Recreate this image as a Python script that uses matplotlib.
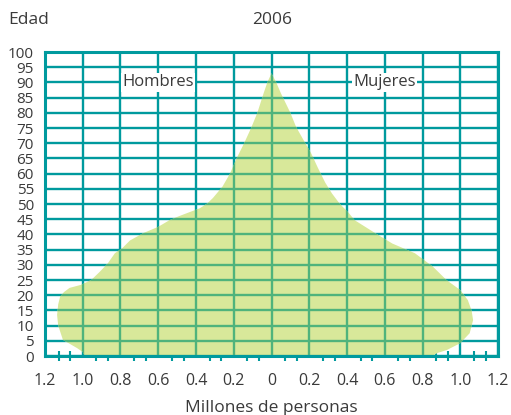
import numpy as np
import matplotlib
matplotlib.use("Agg")
from matplotlib import pyplot as plt
from matplotlib.patches import Polygon

plt.rcParams['font.family'] = ['Open Sans', 'DejaVu Sans']

# population pyramid 2006, millions of people by age
ages_men = [0, 1.3, 2.6, 5.3, 10, 13.5, 17, 19.5, 21, 22.4, 23.4, 25, 27.7, 30.5,
            33.8, 35.5, 38, 40.4, 42.5, 44.7, 46, 48.6, 50.2, 52, 55.7, 60, 65,
            70, 75, 80, 86.4, 90, 93]
men = [0.99, 1.0, 1.03, 1.105, 1.13, 1.136, 1.13, 1.12, 1.1, 1.07, 1.01, 0.955,
       0.91, 0.867, 0.83, 0.79, 0.75, 0.68, 0.6, 0.54, 0.49, 0.38, 0.34, 0.31,
       0.26, 0.22, 0.185, 0.145, 0.108, 0.075, 0.042, 0.022, 0.0]

ages_women = [0, 1, 2, 4.2, 7.5, 11.8, 15, 18.4, 21.7, 25, 29.4, 33.8, 37, 40.4,
              44.7, 47, 50.2, 53.5, 57, 62, 66.7, 71, 75.4, 80, 86.4, 90, 93]
women = [0.85, 0.88, 0.93, 1.0, 1.05, 1.068, 1.06, 1.04, 1.0, 0.927, 0.855, 0.76,
         0.64, 0.55, 0.44, 0.41, 0.36, 0.32, 0.285, 0.245, 0.21, 0.17, 0.13, 0.1,
         0.05, 0.025, 0.0]

x_ticks = [-1.2, -1.0, -0.8, -0.6, -0.4, -0.2, 0, 0.2, 0.4, 0.6, 0.8, 1.0, 1.2]
x_labels = ['1.2', '1.0', '0.8', '0.6', '0.4', '0.2', '0', '0.2', '0.4', '0.6', '0.8', '1.0', '1.2']
y_ticks = list(range(0, 101, 5))

teal = '#009a9e'
fill_col = '#d8e89a'
green_grid = '#4fb37c'
txt = '#3a3a3a'

fig = plt.figure(figsize=(5.11, 4.15), dpi=100)
ax = fig.add_axes([45 / 511, 1 - 356 / 415, 453 / 511, 304 / 415])
ax.set_xlim(-1.2, 1.2)
ax.set_ylim(0, 100)

# teal grid
for x in x_ticks:
    ax.axvline(x, color=teal, lw=1.7, zorder=1)
for y in y_ticks:
    ax.axhline(y, color=teal, lw=1.7, zorder=1)

# outline polygon: women side going up, men side coming down
verts = [(w, a) for a, w in zip(ages_women, women)]
verts += [(-m, a) for a, m in zip(ages_men[::-1], men[::-1])]
poly = Polygon(verts, closed=True, fc=fill_col, ec='none', zorder=2)
ax.add_patch(poly)

# greenish grid inside the pyramid
for x in x_ticks:
    ln = ax.axvline(x, color=green_grid, lw=1.7, zorder=3)
    ln.set_clip_path(poly)
for y in y_ticks:
    ln = ax.axhline(y, color=green_grid, lw=1.7, zorder=3)
    ln.set_clip_path(poly)

for s in ax.spines.values():
    s.set_color(teal)
    s.set_linewidth(2.2)
    s.set_zorder(4)

ax.set_xticks(x_ticks)
ax.set_xticklabels(x_labels)
ax.set_yticks(y_ticks)
ax.set_yticklabels([str(v) for v in y_ticks])
minor = []
for x in x_ticks[:-1]:
    minor += [x + 0.072, x + 0.134]
ax.set_xticks(minor, minor=True)
ax.tick_params(axis='x', which='major', length=0, pad=12, labelsize=11.5, labelcolor=txt)
ax.tick_params(axis='x', which='minor', direction='inout', length=7, width=1.5, color=teal)
ax.tick_params(axis='y', which='major', length=0, pad=8, labelsize=11, labelcolor=txt)

box = dict(facecolor='white', edgecolor='none', pad=1)
ax.text(-0.6, 90, 'Hombres', ha='center', va='center', fontsize=12, color=txt, bbox=box, zorder=5)
ax.text(0.6, 90, 'Mujeres', ha='center', va='center', fontsize=12, color=txt, bbox=box, zorder=5)

fig.text(8 / 511, 1 - 20 / 415, 'Edad', ha='left', va='center', fontsize=12.5, color=txt)
fig.text(271.7 / 511, 1 - 20 / 415, '2006', ha='center', va='center', fontsize=12.5, color=txt)
fig.text(271.7 / 511, 1 - 412 / 415, 'Millones de personas', ha='center', va='baseline',
         fontsize=12.5, color=txt)

fig.savefig('out.png', dpi=100)
